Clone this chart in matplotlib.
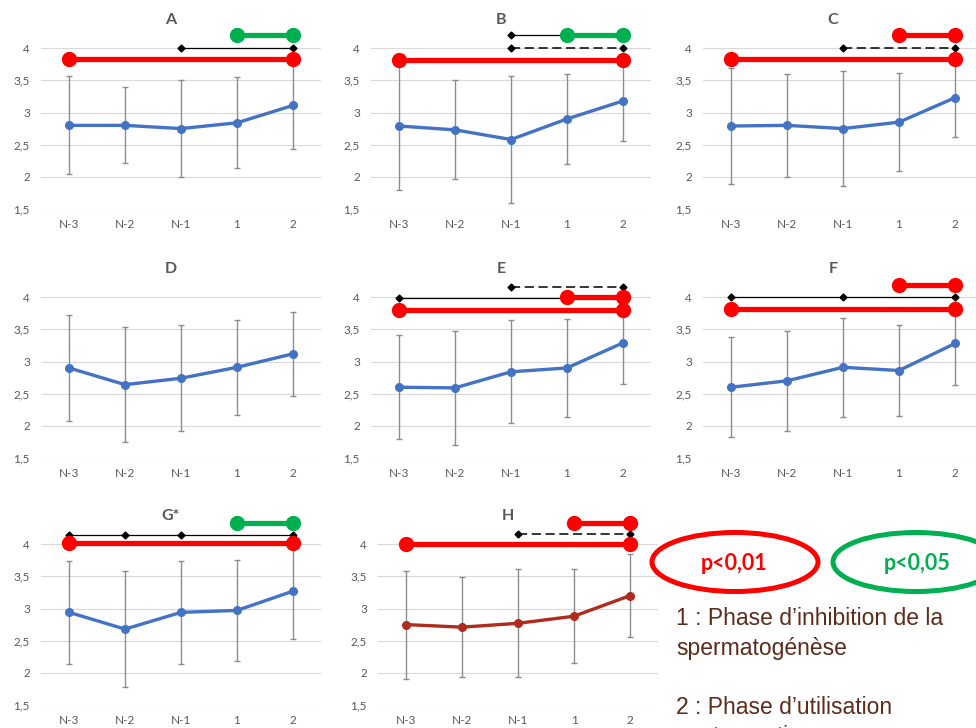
import matplotlib.pyplot as plt
import numpy as np
from matplotlib.patches import Ellipse

plt.rcParams['font.family'] = ['Lato', 'DejaVu Sans']

cats = ['N-3', 'N-2', 'N-1', '1', '2']
yticks = [1.5, 2, 2.5, 3, 3.5, 4]
ylabels = ['1,5', '2', '2,5', '3', '3,5', '4']

# mean score and standard deviation per period
means_A = [2.80, 2.80, 2.75, 2.84, 3.11]
sd_A = [0.76, 0.59, 0.76, 0.71, 0.67]
means_B = [2.79, 2.73, 2.58, 2.90, 3.18]
sd_B = [0.99, 0.77, 0.99, 0.70, 0.63]
means_C = [2.79, 2.80, 2.75, 2.85, 3.23]
sd_C = [0.90, 0.80, 0.90, 0.76, 0.61]
means_D = [2.90, 2.64, 2.74, 2.91, 3.12]
sd_D = [0.82, 0.89, 0.82, 0.74, 0.65]
means_E = [2.60, 2.59, 2.84, 2.90, 3.29]
sd_E = [0.81, 0.89, 0.80, 0.76, 0.64]
means_F = [2.60, 2.70, 2.91, 2.86, 3.28]
sd_F = [0.78, 0.78, 0.77, 0.70, 0.64]
means_G = [2.94, 2.68, 2.94, 2.97, 3.27]
sd_G = [0.80, 0.90, 0.80, 0.78, 0.75]
means_H = [2.75, 2.71, 2.77, 2.88, 3.20]
sd_H = [0.84, 0.78, 0.84, 0.73, 0.64]

# significance brackets: (kind, category indices, level)
brk_A = [('black', [2, 4], 4.0), ('red', [0, 4], 3.83), ('green', [3, 4], 4.21)]
brk_B = [('dash', [2, 4], 4.0), ('black', [2, 4], 4.21), ('red', [0, 4], 3.82), ('green', [3, 4], 4.21)]
brk_C = [('dash', [2, 4], 4.0), ('red', [0, 4], 3.83), ('red', [3, 4], 4.2)]
brk_D = []
brk_E = [('black', [0, 4], 3.99), ('dash', [2, 4], 4.16), ('red', [0, 4], 3.80), ('red', [3, 4], 4.0)]
brk_F = [('black', [0, 2, 4], 4.0), ('red', [0, 4], 3.81), ('red', [3, 4], 4.19)]
brk_G = [('black', [0, 1, 2, 4], 4.14), ('red', [0, 4], 4.02), ('green', [3, 4], 4.33)]
brk_H = [('dash', [2, 4], 4.16), ('red', [0, 4], 4.0), ('red', [3, 4], 4.33)]

panels = [
    ('A', means_A, sd_A, brk_A, 41, 209, '#4472C4'),
    ('B', means_B, sd_B, brk_B, 371, 209, '#4472C4'),
    ('C', means_C, sd_C, brk_C, 703, 209, '#4472C4'),
    ('D', means_D, sd_D, brk_D, 41, 458, '#4472C4'),
    ('E', means_E, sd_E, brk_E, 371, 458, '#4472C4'),
    ('F', means_F, sd_F, brk_F, 703, 458, '#4472C4'),
    ('G*', means_G, sd_G, brk_G, 41, 705, '#4472C4'),
    ('H', means_H, sd_H, brk_H, 378, 705, '#AE2B1E'),
]

W, H = 976, 728
fig = plt.figure(figsize=(W / 100, H / 100), dpi=100)

grey = '#595959'
x = np.arange(len(cats))

for name, m, s, brk, left, bottom, col in panels:
    ax = fig.add_axes([left / W, 1 - bottom / H, 280 / W, 193 / H])
    ax.set_xlim(-0.5, 4.5)
    ax.set_ylim(1.5, 4.5)
    ax.set_yticks(yticks)
    ax.set_yticklabels(ylabels)
    ax.set_xticks(x)
    ax.set_xticklabels(cats)
    ax.tick_params(length=0, labelsize=8.5, colors=grey)
    ax.tick_params(axis='x', pad=7)
    ax.tick_params(axis='y', pad=8)
    for sp in ax.spines.values():
        sp.set_visible(False)
    ax.grid(axis='y', color='#d9d9d9', lw=0.8)
    ax.set_axisbelow(True)

    ax.errorbar(x, m, yerr=s, fmt='none', ecolor='#8c8c8c', elinewidth=1,
                capsize=2.5, capthick=1, zorder=2)
    ax.plot(x, m, color=col, lw=2.4, marker='o', ms=5.5, zorder=3)

    ax.text(1.82, 4.44, name, ha='center', va='center', fontsize=11.5,
            fontweight='bold', color=grey)

    for kind, idx, lev in brk:
        xs = [x[i] for i in idx]
        ys = [lev] * len(idx)
        if kind == 'black':
            ax.plot(xs, ys, color='black', lw=0.9, marker='D', ms=3.5,
                    zorder=4, clip_on=False)
        elif kind == 'dash':
            ax.plot(xs, ys, color='black', lw=1.1, ls=(0, (6, 3)), marker='D',
                    ms=3.5, zorder=4, clip_on=False)
        else:
            c = '#FF0000' if kind == 'red' else '#00B050'
            ax.plot(xs, ys, color=c, lw=3.8, marker='o', ms=10, zorder=5,
                    clip_on=False)

# legend and notes, in pixel coordinates
ov = fig.add_axes([0, 0, 1, 1])
ov.set_xlim(0, W)
ov.set_ylim(H, 0)
ov.axis('off')

ov.add_patch(Ellipse((735, 562), 166, 59, fill=False, ec='#FF0000', lw=3.6))
ov.add_patch(Ellipse((916, 562), 166, 59, fill=False, ec='#00B050', lw=3.6))
ov.text(734, 564, 'p<0,01', ha='center', va='center', fontsize=15.5,
        fontweight='bold', color='#FF0000')
ov.text(917, 564, 'p<0,05', ha='center', va='center', fontsize=15.5,
        fontweight='bold', color='#00B050')

brown = '#5E2B1B'
notes = ['1 : Phase d\u2019inhibition de la', 'spermatog\u00e9n\u00e8se', '',
         '2 : Phase d\u2019utilisation', 'contraceptive']
for i, t in enumerate(notes):
    ov.text(676, 625 + 29.5 * i, t, ha='left', va='baseline', fontsize=16.5,
            color=brown, family='Liberation Sans')

fig.savefig('out.png', dpi=100)
